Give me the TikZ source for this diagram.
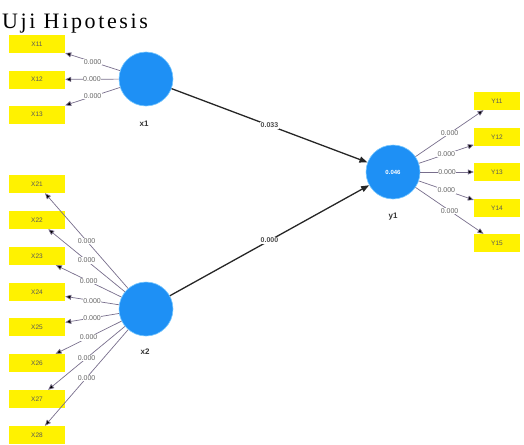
\documentclass[tikz,border=0pt]{standalone}
\usepackage{fontspec}
\setmainfont{Liberation Serif}
\newfontfamily\arialf{Liberation Sans}
\usetikzlibrary{arrows.meta}
\definecolor{lvblue}{RGB}{30,144,245}
\definecolor{lvedge}{RGB}{120,200,255}
\definecolor{lnk}{RGB}{120,110,140}
\definecolor{lbl}{RGB}{100,100,100}
\tikzset{
  ind/.style={fill=yellow, minimum width=56pt, minimum height=18pt, inner sep=0pt, font=\arialf\fontsize{6.5}{7}\selectfont, text=black!65},
  indy/.style={ind, minimum width=46pt},
  lv/.style={circle, fill=lvblue, draw=lvedge, line width=0.6pt, minimum size=54pt, inner sep=0pt, font=\arialf\bfseries\fontsize{6}{7}\selectfont, text=white},
  lvname/.style={font=\arialf\bfseries\fontsize{8}{9}\selectfont, text=black!80},
  load/.style={draw=lnk, line width=0.7pt, -{Triangle[length=6pt,width=5pt,fill=black]}},
  loadlbl/.style={fill=white, inner sep=0.6pt, font=\arialf\fontsize{7}{8}\selectfont, text=lbl},
  path/.style={draw=black!85, line width=1.3pt, -{Triangle[length=8pt,width=6pt]}},
  pathlbl/.style={fill=white, inner sep=0.8pt, font=\arialf\bfseries\fontsize{7}{8}\selectfont, text=black!70}
}
\begin{document}
\begin{tikzpicture}[x=1pt,y=-1pt]
\useasboundingbox (0,0) rectangle (524,444);
\node[anchor=base west, inner sep=0pt, font=\fontsize{22}{24}\selectfont\addfontfeatures{LetterSpace=12}] (title) at (2,29) {Uji Hipotesis};
% latent variables
\node[lv] (x1) at (146,79) {};
\node[lv] (x2) at (146,309) {};
\node[lv] (y1) at (393,172) {0.046};
\node[lvname] (x1n) at (144,124) {x1};
\node[lvname] (x2n) at (145,352) {x2};
\node[lvname] (y1n) at (393,217) {y1};
% indicators
\node[ind] (X11) at (37,44) {X11};
\node[ind] (X12) at (37,79.5) {X12};
\node[ind] (X13) at (37,114.5) {X13};
\node[ind] (X21) at (37,184) {X21};
\node[ind] (X22) at (37,220) {X22};
\node[ind] (X23) at (37,256) {X23};
\node[ind] (X24) at (37,292) {X24};
\node[ind] (X25) at (37,327) {X25};
\node[ind] (X26) at (37,363) {X26};
\node[ind] (X27) at (37,399) {X27};
\node[ind] (X28) at (37,435) {X28};
\node[indy] (Y11) at (497,101) {Y11};
\node[indy] (Y12) at (497,137) {Y12};
\node[indy] (Y13) at (497,172) {Y13};
\node[indy] (Y14) at (497,208) {Y14};
\node[indy] (Y15) at (497,243) {Y15};
% loadings
\foreach \t in {X11,X12,X13}{
  \draw[load] (x1) -- node[loadlbl, pos=0.5] {0.000} (\t);
}
\foreach \t in {X21,X22,X23,X24,X25,X26,X27,X28}{
  \draw[load] (x2) -- node[loadlbl, pos=0.5] {0.000} (\t);
}
\foreach \t in {Y11,Y12,Y13,Y14,Y15}{
  \draw[load] (y1) -- node[loadlbl, pos=0.5] {0.000} (\t);
}
% paths
\draw[path] (x1) -- node[pathlbl] {0.033} (y1);
\draw[path] (x2) -- node[pathlbl] {0.000} (y1);
\end{tikzpicture}
\end{document}
